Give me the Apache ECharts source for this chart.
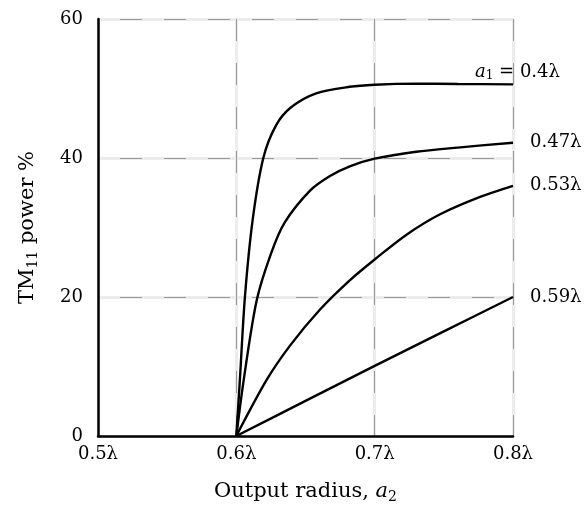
<!DOCTYPE html>
<html>
<head>
<meta charset="utf-8">
<style>html,body{margin:0;padding:0;background:#fff;}#c{width:586px;height:509px;}</style>
<script src="https://cdn.jsdelivr.net/npm/echarts@6/dist/echarts.min.js"></script>
</head>
<body>
<div id="c"></div>
<script>
const xTickLabels = ['0.5λ', '0.6λ', '0.7λ', '0.8λ'];
const yTickLabels = ['0', '20', '40', '60'];
const seriesLabels = ['0.4λ', '0.47λ', '0.53λ', '0.59λ'];

const curveA04 = [
  [0.6, 0], [0.6026, 8.2], [0.6062, 20], [0.6118, 31.1], [0.6195, 40], [0.6287, 44.7],
  [0.6396, 47.3], [0.6577, 49.3], [0.682, 50.25], [0.7, 50.55], [0.73, 50.7], [0.76, 50.65], [0.8, 50.6]
];
const curveA047 = [
  [0.6, 0], [0.6055, 8.3], [0.6147, 19.5], [0.625, 26.2], [0.6349, 30.7],
  [0.6533, 35.3], [0.6677, 37.4], [0.682, 38.8], [0.7, 39.9], [0.73, 40.9], [0.76, 41.5], [0.8, 42.2]
];
const curveA053 = [
  [0.6, 0], [0.6219, 8.06], [0.6388, 13.0], [0.6605, 18.2], [0.682, 22.4],
  [0.7, 25.4], [0.7233, 29.0], [0.7473, 31.9], [0.7762, 34.4], [0.8, 36.0]
];
const curveA059 = [
  [0.6, 0], [0.65, 5.05], [0.7, 10.1], [0.75, 15.05], [0.8, 20]
];

const FONT = 'DejaVu Serif';
const chart = echarts.init(document.getElementById('c'), null, {renderer: 'canvas'});

function mkSeries(data, idx) {
  const isFirst = idx === 0;
  return {
    type: 'line',
    data: data,
    showSymbol: false,
    smooth: 0.3,
    lineStyle: {color: '#000', width: 2.4},
    itemStyle: {color: '#000'},
    silent: true,
    z: 5,
    endLabel: {
      show: true,
      distance: 17,
      offset: isFirst ? [-55, -12] : [0, 0],
      formatter: isFirst ? ('{it|a}{sub|1} = ' + seriesLabels[idx]) : seriesLabels[idx],
      fontFamily: FONT,
      fontSize: 18,
      color: '#000',
      rich: {
        it: {fontFamily: FONT, fontStyle: 'italic', fontSize: 18, color: '#000'},
        sub: {fontFamily: FONT, fontSize: 12, color: '#000', verticalAlign: 'bottom', padding: [8, 0, 0, 0]}
      }
    }
  };
}

const option = {
  animation: false,
  backgroundColor: '#fff',
  grid: {left: 98, right: 73, top: 19, bottom: 73, containLabel: false},
  xAxis: [
    {
      type: 'value', min: 0.5, max: 0.8, interval: 0.1, position: 'bottom',
      axisLine: {show: true, lineStyle: {color: '#000', width: 2.5}},
      axisTick: {show: false},
      axisLabel: {
        margin: 9, fontFamily: FONT, fontSize: 18, color: '#000',
        formatter: function (v, i) { return xTickLabels[Math.round((v - 0.5) / 0.1)]; }
      },
      splitLine: {show: true, lineStyle: {color: '#ececec', width: 3, type: 'solid'}},
      name: '{n|Output radius, }{it|a}{sub|2}',
      nameLocation: 'middle', nameGap: 44,
      nameTextStyle: {
        fontFamily: FONT, fontSize: 21, color: '#000',
        rich: {
          n: {fontFamily: FONT, fontSize: 21, color: '#000'},
          it: {fontFamily: FONT, fontStyle: 'italic', fontSize: 21, color: '#000'},
          sub: {fontFamily: FONT, fontSize: 14, color: '#000', verticalAlign: 'bottom', padding: [10, 0, 0, 0]}
        }
      }
    },
    {
      type: 'value', min: 0.5, max: 0.8, interval: 0.1, position: 'top',
      axisLine: {show: false}, axisTick: {show: false}, axisLabel: {show: false},
      splitLine: {show: true, lineStyle: {color: '#999', width: 1, type: [22, 22], dashOffset: 0}}
    }
  ],
  yAxis: [
    {
      type: 'value', min: 0, max: 60, interval: 20, position: 'left',
      axisLine: {show: true, lineStyle: {color: '#000', width: 2.5}},
      axisTick: {show: false},
      axisLabel: {
        margin: 15, fontFamily: FONT, fontSize: 18, color: '#000',
        formatter: function (v, i) { return yTickLabels[Math.round(v / 20)]; }
      },
      splitLine: {show: true, lineStyle: {color: '#ececec', width: 3, type: 'solid'}},
      name: '{n|TM}{sub|11}{n| power %}',
      nameLocation: 'middle', nameGap: 58, nameRotate: 90,
      nameTextStyle: {
        fontFamily: FONT, fontSize: 21, color: '#000',
        rich: {
          n: {fontFamily: FONT, fontSize: 21, color: '#000'},
          sub: {fontFamily: FONT, fontSize: 14, color: '#000', verticalAlign: 'bottom', padding: [10, 0, 0, 0]}
        }
      }
    },
    {
      type: 'value', min: 0, max: 60, interval: 20, position: 'right',
      axisLine: {show: false}, axisTick: {show: false}, axisLabel: {show: false},
      splitLine: {show: true, lineStyle: {color: '#999', width: 1, type: [22, 22], dashOffset: 22}}
    }
  ],
  series: [
    mkSeries(curveA04, 0),
    mkSeries(curveA047, 1),
    mkSeries(curveA053, 2),
    mkSeries(curveA059, 3)
  ]
};
chart.setOption(option);
</script>
</body>
</html>
